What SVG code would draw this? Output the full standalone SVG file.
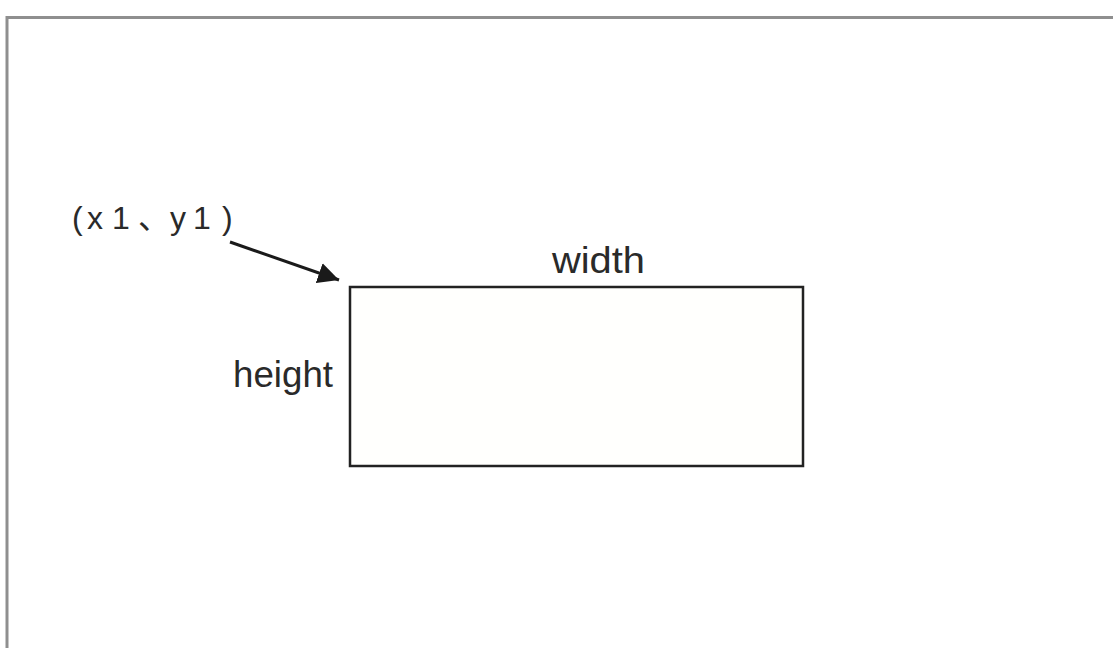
<svg xmlns="http://www.w3.org/2000/svg" width="1113" height="648" viewBox="0 0 1113 648">
<style>
.lbl{font-family:"Liberation Sans","Noto Sans CJK SC",sans-serif;fill:#2a2a2a}
</style>
<defs>
<marker id="ah" viewBox="0 0 10 10" refX="10" refY="5" markerWidth="7" markerHeight="7" markerUnits="strokeWidth" orient="auto">
<path d="M0,0 L10,5 L0,10 z" fill="#1a1a1a"/>
</marker>
</defs>
<rect width="1113" height="648" fill="#ffffff"/>
<path d="M7,648 V17.5 H1113" fill="none" stroke="#8f8f8f" stroke-width="3"/>
<g id="rect-node">
<rect x="350" y="287" width="453" height="179" fill="#fffffd" stroke="#222" stroke-width="2.5"/>
</g>
<g id="width-label"><text class="lbl" x="552" y="273" font-size="36" textLength="93" lengthAdjust="spacingAndGlyphs">width</text></g>
<g id="height-label"><text class="lbl" x="233" y="387" font-size="37" textLength="100" lengthAdjust="spacingAndGlyphs">height</text></g>
<g id="coord-label"><text class="lbl" y="229" font-size="32" fill="#333" x="72 87 112 138 170 193 222">(x1、y1)</text></g>
<g id="connectors">
<line x1="230" y1="242" x2="339" y2="280" stroke="#1a1a1a" stroke-width="3" marker-end="url(#ah)"/>
</g>
</svg>
